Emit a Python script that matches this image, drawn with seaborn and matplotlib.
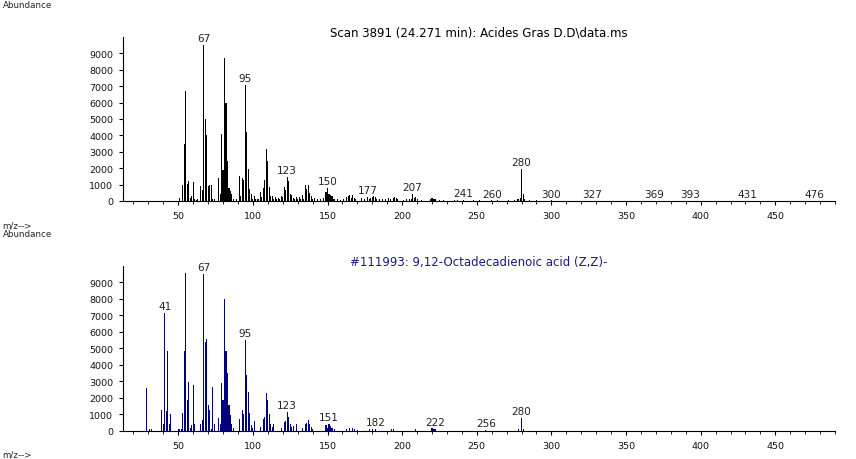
import matplotlib
matplotlib.use("Agg")
import matplotlib.pyplot as plt
import seaborn as sns
import pandas as pd
from matplotlib.ticker import MultipleLocator

# sample scan (top)
scan_mz = [51, 53, 54, 55, 56, 57, 58, 59, 60, 61, 62, 63, 65, 66, 67, 68, 69, 70, 71, 72,
           73, 74, 77, 78, 79, 80, 81, 82, 83, 84, 85, 86, 87, 89, 91, 92, 93, 94, 95, 96,
           97, 98, 99, 100, 101, 102, 103, 104, 105, 106, 107, 108, 109, 110, 111, 112, 113,
           114, 115, 116, 117, 118, 119, 120, 121, 122, 123, 124, 125, 126, 127, 128, 129,
           130, 131, 132, 133, 134, 135, 136, 137, 138, 139, 140, 141, 143, 145, 147, 149,
           150, 151, 152, 153, 154, 155, 157, 159, 161, 163, 164, 165, 166, 167, 168, 169,
           173, 175, 177, 178, 179, 180, 181, 182, 183, 185, 187, 189, 191, 192, 194, 195,
           196, 197, 201, 203, 205, 206, 207, 208, 209, 210, 213, 219, 220, 221, 222, 225,
           228, 235, 237, 241, 248, 252, 260, 264, 271, 275, 277, 278, 279, 280, 281, 282,
           285, 290, 300, 327, 369, 393, 431, 476]
scan_ab = [200, 1000, 3450, 6700, 1050, 1200, 200, 300, 1150, 100, 80, 100, 900, 700, 9500,
           5000, 4000, 900, 950, 1000, 150, 100, 1400, 450, 4100, 1900, 8700, 6000, 2450, 800,
           600, 400, 100, 100, 1500, 300, 1400, 1250, 7100, 4200, 1950, 750, 400, 150, 300,
           100, 100, 100, 550, 250, 800, 1250, 3200, 2450, 850, 300, 300, 150, 250, 100, 200,
           100, 300, 250, 850, 650, 1450, 1200, 400, 350, 200, 100, 250, 150, 250, 100, 350,
           150, 950, 750, 1000, 500, 300, 150, 200, 100, 150, 200, 550, 800, 450, 350, 300,
           150, 100, 100, 50, 100, 250, 300, 350, 200, 350, 200, 100, 200, 100, 250, 150, 200,
           250, 300, 250, 150, 100, 150, 150, 200, 100, 200, 250, 200, 100, 50, 100, 100, 100,
           400, 200, 250, 150, 50, 100, 200, 150, 100, 50, 60, 50, 50, 40, 40, 30, 30, 40, 50,
           60, 100, 150, 200, 1950, 400, 120, 40, 30, 30, 25, 25, 25, 20, 20]
scan_labels = [67, 95, 123, 150, 177, 207, 241, 260, 280, 300, 327, 369, 393, 431, 476]

# library spectrum (bottom)
lib_mz = [29, 31, 32, 39, 40, 41, 42, 43, 44, 45, 50, 51, 52, 53, 54, 55, 56, 57, 58, 59,
          60, 61, 65, 66, 67, 68, 69, 70, 71, 72, 73, 74, 77, 78, 79, 80, 81, 82, 83, 84,
          85, 86, 87, 91, 93, 94, 95, 96, 97, 98, 99, 100, 101, 105, 107, 108, 109, 110,
          111, 112, 113, 114, 119, 121, 122, 123, 124, 125, 126, 127, 129, 133, 135, 136,
          137, 138, 139, 140, 149, 150, 151, 152, 153, 155, 163, 165, 167, 168, 170, 178,
          180, 182, 193, 194, 209, 220, 221, 222, 256, 278, 280, 281]
lib_ab = [2600, 100, 150, 1250, 400, 7130, 1200, 4850, 450, 1050, 100, 100, 150, 1100, 4850,
          9600, 1900, 2950, 200, 350, 2800, 400, 400, 650, 9500, 5400, 5600, 1550, 1300, 150,
          2650, 450, 800, 400, 2900, 1850, 8000, 4850, 3500, 1550, 950, 400, 200, 750, 1300,
          1000, 5500, 3400, 2350, 1100, 350, 200, 600, 250, 700, 850, 2300, 1850, 1000, 400,
          250, 450, 200, 550, 600, 1150, 850, 400, 250, 300, 450, 200, 450, 500, 650, 450,
          250, 150, 350, 200, 400, 300, 200, 100, 150, 200, 200, 150, 50, 100, 100, 150, 100,
          150, 150, 200, 150, 100, 50, 100, 800, 150]
lib_labels = [41, 67, 95, 123, 151, 182, 222, 256, 280]

scan_title = "Scan 3891 (24.271 min): Acides Gras D.D\\data.ms"
lib_title = "#111993: 9,12-Octadecadienoic acid (Z,Z)-"

sns.set_style("ticks")
plt.rcParams['font.family'] = ['DejaVu Sans']

fig = plt.figure(figsize=(8.56, 4.6), dpi=100)
ax1 = fig.add_axes([0.1437, 0.5609, 0.8318, 0.3565])
ax2 = fig.add_axes([0.1437, 0.0609, 0.8318, 0.3587])


def draw_spectrum(ax, mz, ab, labels, color, title, title_color):
    df = pd.DataFrame({"mz": mz, "ab": ab})
    sns.barplot(data=df, x="mz", y="ab", native_scale=True, color=color,
                width=0.7, linewidth=0, saturation=1, ax=ax)
    lookup = dict(zip(mz, ab))
    for m in labels:
        ax.text(m, lookup[m] + 120, str(m), ha="center", va="bottom", fontsize=7.5,
                color="#222222")
    ax.set_xlim(13, 490)
    ax.set_ylim(0, 10000)
    ax.xaxis.set_minor_locator(MultipleLocator(10))
    ax.set_xticks(range(50, 451, 50))
    ax.set_yticks(range(0, 9001, 1000))
    ax.tick_params(axis="both", labelsize=6.8, length=3, width=0.8, pad=4,
                   colors="black", labelcolor="#111111")
    ax.tick_params(axis="x", which="minor", length=2, width=0.6, colors="black")
    ax.set_xlabel("")
    ax.set_ylabel("")
    sns.despine(ax=ax)
    for s in ["left", "bottom"]:
        ax.spines[s].set_linewidth(0.8)
        ax.spines[s].set_color("black")
    ax.text(0.5, 0.99, title, transform=ax.transAxes, ha="center", va="bottom",
            fontsize=8.5, color=title_color)


draw_spectrum(ax1, scan_mz, scan_ab, scan_labels, "black", scan_title, "black")
draw_spectrum(ax2, lib_mz, lib_ab, lib_labels, "#000080", lib_title, "#1a1a80")

fig.text(0.003, 0.997, "Abundance", ha="left", va="top", fontsize=6.3)
fig.text(0.003, 0.5, "Abundance", ha="left", va="top", fontsize=6.3)
fig.text(0.003, 0.518, "m/z-->", ha="left", va="top", fontsize=6.3)
fig.text(0.003, 0.002, "m/z-->", ha="left", va="bottom", fontsize=6.3)

fig.savefig("out.png", dpi=100)
